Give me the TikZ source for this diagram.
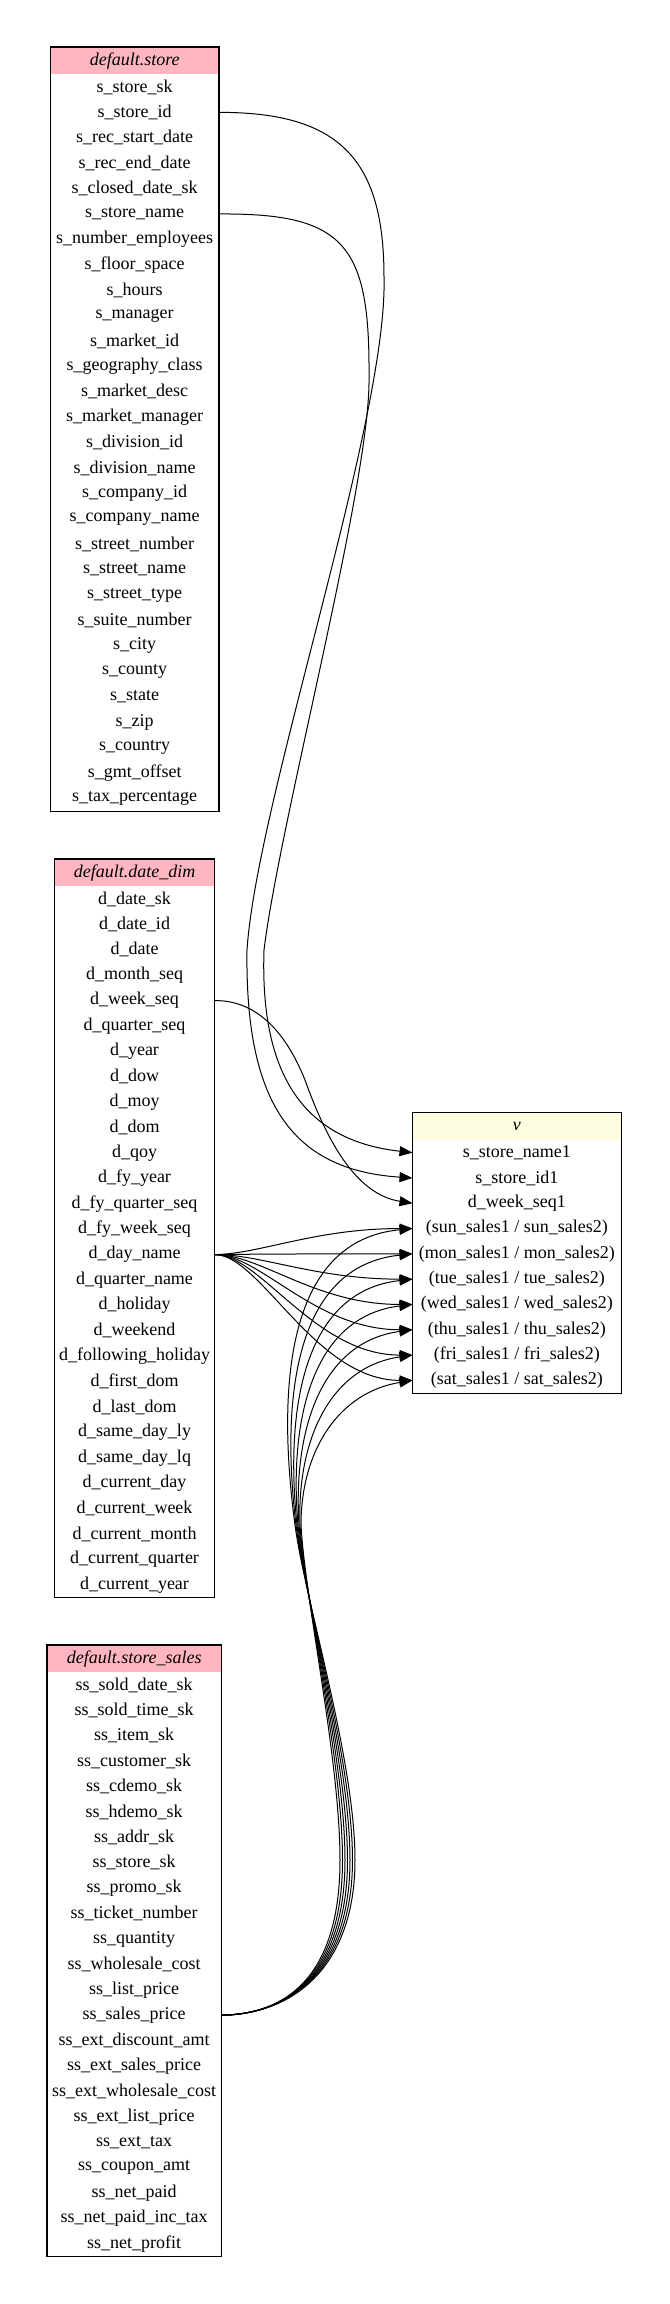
\documentclass[tikz,border=0pt]{standalone}
\usepackage{fontspec}
\setmainfont{Liberation Serif}
\usepackage{tikz}
\usetikzlibrary{arrows.meta}
\definecolor{tbl_pink}{RGB}{255,182,193}
\definecolor{tbl_yellow}{RGB}{255,253,224}

\begin{document}
\begin{tikzpicture}[
  x=0.75pt,y=-0.75pt,
  font=\fontsize{13.5}{16}\selectfont,
  field/.style={minimum height=19.05pt,inner sep=0pt,text centered},
  head/.style={minimum height=20.25pt,inner sep=0pt,text centered,
               font=\fontsize{13.5}{16}\selectfont\itshape},
  border/.style={draw=black,line width=1pt},
  edge/.style={-{Triangle[length=9.75pt,width=7.5pt]},line width=0.75pt}
]
\useasboundingbox (0,0) rectangle (669,2304);

% default.store
\node[head,fill=tbl_pink,minimum width=126pt] (store) at (134.7,60.8) {default.store};
\foreach \f [count=\i] in {s\_store\_sk,s\_store\_id,s\_rec\_start\_date,s\_rec\_end\_date,
  s\_closed\_date\_sk,s\_store\_name,s\_number\_employees,s\_floor\_space,s\_hours,
  s\_manager,s\_market\_id,s\_geography\_class,s\_market\_desc,s\_market\_manager,
  s\_division\_id,s\_division\_name,s\_company\_id,s\_company\_name,s\_street\_number,
  s\_street\_name,s\_street\_type,s\_suite\_number,s\_city,s\_county,s\_state,s\_zip,
  s\_country,s\_gmt\_offset,s\_tax\_percentage}
  \node[field,minimum width=126pt] (store-\i) at (134.7,{74.3+(\i-0.5)*25.4}) {\f};
\draw[border] (store.north west) rectangle (store-29.south east);

% default.date_dim
\node[head,fill=tbl_pink,minimum width=119.7pt] (dd) at (134.5,872.6) {default.date\_dim};
\foreach \f [count=\i] in {d\_date\_sk,d\_date\_id,d\_date,d\_month\_seq,d\_week\_seq,
  d\_quarter\_seq,d\_year,d\_dow,d\_moy,d\_dom,d\_qoy,d\_fy\_year,d\_fy\_quarter\_seq,
  d\_fy\_week\_seq,d\_day\_name,d\_quarter\_name,d\_holiday,d\_weekend,
  d\_following\_holiday,d\_first\_dom,d\_last\_dom,d\_same\_day\_ly,d\_same\_day\_lq,
  d\_current\_day,d\_current\_week,d\_current\_month,d\_current\_quarter,d\_current\_year}
  \node[field,minimum width=119.7pt] (dd-\i) at (134.5,{886.3+(\i-0.5)*25.4}) {\f};
\draw[border] (dd.north west) rectangle (dd-28.south east);

% default.store_sales
\node[head,fill=tbl_pink,minimum width=130.3pt] (ss) at (134.2,1658.6) {default.store\_sales};
\foreach \f [count=\i] in {ss\_sold\_date\_sk,ss\_sold\_time\_sk,ss\_item\_sk,
  ss\_customer\_sk,ss\_cdemo\_sk,ss\_hdemo\_sk,ss\_addr\_sk,ss\_store\_sk,ss\_promo\_sk,
  ss\_ticket\_number,ss\_quantity,ss\_wholesale\_cost,ss\_list\_price,ss\_sales\_price,
  ss\_ext\_discount\_amt,ss\_ext\_sales\_price,ss\_ext\_wholesale\_cost,
  ss\_ext\_list\_price,ss\_ext\_tax,ss\_coupon\_amt,ss\_net\_paid,ss\_net\_paid\_inc\_tax,
  ss\_net\_profit}
  \node[field,minimum width=130.3pt] (ss-\i) at (134.2,{1672.3+(\i-0.5)*25.4}) {\f};
\draw[border] (ss.north west) rectangle (ss-23.south east);

% v
\node[head,fill=tbl_yellow,minimum width=156.2pt] (v) at (516.9,1126.3) {v};
\foreach \f [count=\i] in {s\_store\_name1,s\_store\_id1,d\_week\_seq1,
  {(sun\_sales1 / sun\_sales2)},{(mon\_sales1 / mon\_sales2)},
  {(tue\_sales1 / tue\_sales2)},{(wed\_sales1 / wed\_sales2)},
  {(thu\_sales1 / thu\_sales2)},{(fri\_sales1 / fri\_sales2)},
  {(sat\_sales1 / sat\_sales2)}}
  \node[field,minimum width=156.2pt] (v-\i) at (516.9,{1140+(\i-0.5)*25.3}) {\f};
\draw[border] (v.north west) rectangle (v-10.south east);

% lineage edges
\draw[edge] (store-2.east) .. controls (340,112) and (384,160) .. (384,277)
  .. controls (388,420) and (257,800) .. (247,950)
  .. controls (245,1100) and (290,1170) .. (v-2.west);
\draw[edge] (store-6.east) .. controls (345,213) and (370,245) .. (369,377)
  .. controls (371,480) and (280,820) .. (264,950)
  .. controls (260,1070) and (300,1140) .. (v-1.west);
\draw[edge] (dd-5.east) .. controls (255,1000) and (285,1030) .. (305,1080)
  .. controls (330,1150) and (360,1195) .. (v-3.west);
\foreach \r in {4,...,10} {
  \pgfmathsetmacro\ty{1140+(\r-0.5)*25.3}
  \draw[edge] (dd-15.east) .. controls (260,1254) and (315,\ty) .. (v-\r.west);
}
\foreach \i in {0,...,6} {
  \pgfmathtruncatemacro\r{\i+4}
  \pgfmathsetmacro\ty{1140+(\r-0.5)*25.3}
  \pgfmathsetmacro\bx{355-2.5*\i}
  \draw[edge] (ss-14.east) .. controls (300,2014) and (\bx,1960) .. (\bx,1860)
    .. controls (\bx,1760) and (305,1600) .. ({295+\i},1525)
    .. controls ({277+4*\i},{1390+10*\i}) and ({285+9*\i},{\ty+12}) .. (v-\r.west);
}
\end{tikzpicture}
\end{document}
